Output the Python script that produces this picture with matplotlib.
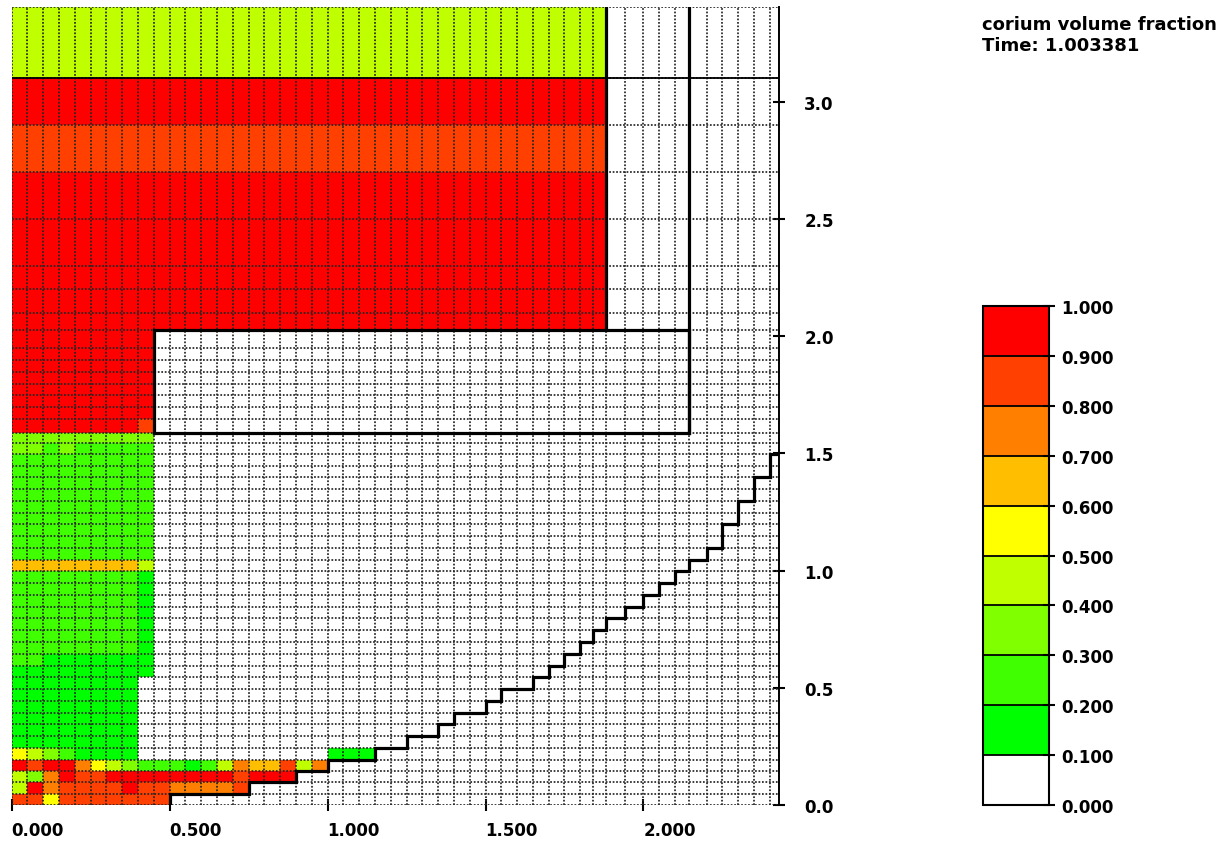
import matplotlib
matplotlib.use("Agg")
import numpy as np
import matplotlib.pyplot as plt
from matplotlib.colors import ListedColormap, BoundaryNorm
from matplotlib.cm import ScalarMappable

# ---------------- data ----------------
title_lines = ["corium volume fraction", "Time: 1.003381"]

# mesh cell edges (data units)
x_edges = [0.00, 0.05, 0.10, 0.15, 0.20, 0.25, 0.30, 0.35, 0.40, 0.45,
           0.50, 0.55, 0.60, 0.65, 0.70, 0.75, 0.80, 0.85, 0.90, 0.95,
           1.00, 1.05, 1.10, 1.15, 1.20, 1.25, 1.30, 1.35, 1.40, 1.45,
           1.50, 1.55, 1.60, 1.65, 1.70, 1.75, 1.80, 1.84, 1.88, 1.94,
           2.00, 2.05, 2.10, 2.145, 2.20, 2.25, 2.30, 2.35, 2.40, 2.43]
y_edges = [0.00, 0.05, 0.10, 0.145, 0.195, 0.245, 0.295, 0.345, 0.395, 0.445,
           0.495, 0.547, 0.595, 0.647, 0.697, 0.747, 0.797, 0.847, 0.897, 0.947,
           0.997, 1.047, 1.098, 1.148, 1.198, 1.246, 1.298, 1.348, 1.398, 1.448,
           1.497, 1.543, 1.587, 1.646, 1.699, 1.748, 1.798, 1.848, 1.898, 1.949,
           2.026, 2.098, 2.20, 2.30, 2.50, 2.70, 2.90, 3.10, 3.403]

# corium volume fraction per cell, coded in tenths (digit d -> band d/10..d/10+0.1)
# listed bottom row first; cells not listed are empty (0)
field_rows = [
    "8858888888",
    "497888898877778",
    "437988999999998999",
    "98997543222124766847",
    "54321111000000000000111",
    "11111111",
    "11111111",
    "11111111",
    "11111111",
    "11111111",
    "11111111",
    "111111111",
    "221111111",
    "222222221",
    "222222221",
    "222222221",
    "222222221",
    "222222221",
    "222222221",
    "222222221",
    "666666664",
    "222222222",
    "222222222",
    "222222222",
    "222222222",
    "222222222",
    "222222222",
    "222222222",
    "222222222",
    "222222222",
    "332322222",
    "333333333",
    "999999998",
    "999999999",
    "999999999",
    "999999999",
    "999999999",
    "999999999",
    "999999999",
    "999999999",
    "9" * 38,
    "9" * 38,
    "9" * 38,
    "9" * 38,
    "9" * 38,
    "8" * 38,
    "9" * 38,
    "4" * 38,
]

# vessel wall staircase (steps-post profile)
wall_x = [0.50, 0.50, 0.75, 0.90, 1.00, 1.15, 1.25, 1.35, 1.40, 1.50, 1.55,
          1.65, 1.70, 1.75, 1.80, 1.84, 1.88, 1.94, 2.00, 2.05, 2.10, 2.145,
          2.20, 2.25, 2.30, 2.35, 2.40, 2.43]
wall_y = [0.00, 0.05, 0.10, 0.145, 0.195, 0.245, 0.295, 0.345, 0.395, 0.445,
          0.495, 0.547, 0.595, 0.647, 0.697, 0.747, 0.797, 0.847, 0.897, 0.947,
          0.997, 1.047, 1.098, 1.198, 1.298, 1.398, 1.497, 1.497]

# internal structure outline
block_x = [0.45, 2.145, 2.145, 0.45, 0.45]
block_y = [1.587, 1.587, 2.026, 2.026, 1.587]
pool_wall_x = [1.88, 2.145]
pool_wall_bottom = [2.026, 1.587]
layer_line_y = 3.10

levels = [0.0, 0.1, 0.2, 0.3, 0.4, 0.5, 0.6, 0.7, 0.8, 0.9, 1.0]
level_colors = ["#ffffff", "#00ff00", "#40ff00", "#80ff00", "#bfff00",
                "#ffff00", "#ffbf00", "#ff8000", "#ff4000", "#ff0000"]
cbar_labels = ["%.3f" % v for v in levels]

x_ticks = [0.0, 0.5, 1.0, 1.5, 2.0]
x_ticklabels = ["0.000", "0.500", "1.000", "1.500", "2.000"]
y_ticks = [0.0, 0.5, 1.0, 1.5, 2.0, 2.5, 3.0]
y_ticklabels = ["0.0", "0.5", "1.0", "1.5", "2.0", "2.5", "3.0"]

# ---------------- build field ----------------
ncol = len(x_edges) - 1
values = np.zeros((len(field_rows), ncol))
for r, s in enumerate(field_rows):
    s = s.ljust(ncol, "0")
    values[r] = [int(ch) / 10.0 + 0.05 for ch in s]

# ---------------- figure ----------------
plt.rcParams["font.family"] = ["DejaVu Sans"]
plt.rcParams["font.weight"] = "bold"

W, H = 1232, 845
fig = plt.figure(figsize=(W / 100, H / 100), dpi=100)

x0, x1 = 11.7, 779.3
y0, y1 = 806.3, 8.0
ax = fig.add_axes([x0 / W, 1 - y0 / H, (x1 - x0) / W, (y0 - y1) / H])

cmap = ListedColormap(level_colors)
norm = BoundaryNorm(levels, cmap.N)
ax.pcolormesh(x_edges, y_edges, values, cmap=cmap, norm=norm,
              shading="flat", edgecolors="none", zorder=1)

xmax, ymax = x_edges[-1], y_edges[-1]
ax.vlines(x_edges, 0, ymax, colors="#262626", linewidth=1.25,
          linestyles=(0, (1, 1)), zorder=2)
ax.hlines(y_edges, 0, xmax, colors="#262626", linewidth=1.25,
          linestyles=(0, (1, 1)), zorder=2)

thick = dict(color="black", linewidth=2.3, solid_capstyle="projecting",
             solid_joinstyle="miter", zorder=4)
ax.step(wall_x, wall_y, where="post", **thick)
ax.plot(block_x, block_y, **thick)
for xv, yb in zip(pool_wall_x, pool_wall_bottom):
    ax.plot([xv, xv], [yb, ymax], **thick)
ax.plot([0, xmax], [layer_line_y, layer_line_y], color="black",
        linewidth=1.3, zorder=3)

ax.set_xlim(0, xmax)
ax.set_ylim(0, ymax)
for side in ["left", "top", "bottom"]:
    ax.spines[side].set_visible(False)
ax.spines["right"].set_linewidth(1.4)
ax.spines["right"].set_zorder(5)

ax.set_xticks(x_ticks)
ax.set_xticklabels(x_ticklabels, ha="left", fontsize=12, fontweight="bold")
ax.yaxis.tick_right()
ax.set_yticks(y_ticks)
ax.set_yticklabels(y_ticklabels, fontsize=12, fontweight="bold")
ax.tick_params(axis="x", direction="inout", length=8, width=1.5, pad=7)
ax.tick_params(axis="y", direction="inout", length=8, width=1.5, pad=14)

# ---------------- colorbar ----------------
cx0, cx1, cy0, cy1 = 982.5, 1049.0, 806.0, 307.0
cax = fig.add_axes([cx0 / W, 1 - cy0 / H, (cx1 - cx0) / W, (cy0 - cy1) / H])
sm = ScalarMappable(norm=norm, cmap=cmap)
cb = fig.colorbar(sm, cax=cax, ticks=levels, drawedges=True)
cb.outline.set_linewidth(1.5)
cb.dividers.set_color("black")
cb.dividers.set_linewidth(1.3)
cb.ax.set_yticklabels(cbar_labels, fontsize=12, fontweight="bold")
cb.ax.tick_params(direction="inout", length=8, width=1.5, pad=5)

fig.text(982.5 / W, 1 - 25 / H, title_lines[0], ha="left", va="center",
         fontsize=13, fontweight="bold")
fig.text(982.5 / W, 1 - 46 / H, title_lines[1], ha="left", va="center",
         fontsize=13, fontweight="bold")

fig.savefig("out.png", dpi=100, facecolor="white")
